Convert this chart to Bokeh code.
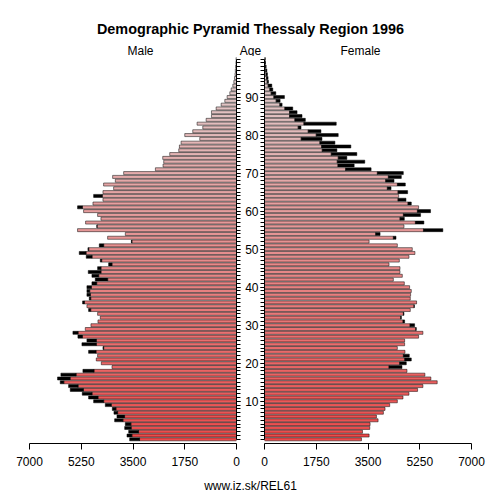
import numpy as np
from bokeh.plotting import figure
from bokeh.layouts import column, row
from bokeh.models import Range1d, FixedTicker, ColumnDataSource
from bokeh.embed import file_html
from bokeh.resources import INLINE
from bokeh.core.properties import value

# ---------------- data ----------------
ages = list(range(101))
male = [3613, 3703, 3646, 3782, 3760, 4121, 4042, 4144, 4200, 4437,
        4832, 5002, 5216, 5622, 5679, 5961, 6052, 5938, 5194, 4211,
        4572, 4742, 4697, 5002, 4516, 5227, 5058, 5363, 5532, 5114,
        4922, 4685, 4606, 4697, 5002, 5058, 5205, 4979, 5058, 5058,
        5058, 4889, 4776, 4889, 5013, 4697, 4324, 4606, 5081, 5318,
        5024, 4640, 3556, 4358, 3760, 5375, 4719, 5103, 4584, 4697,
        5171, 5375, 4854, 4516, 4832, 4516, 4155, 4494, 4098, 4189,
        3816, 2743, 2484, 2461, 2495, 2258, 1953, 1931, 1874, 1242,
        1750, 1479, 1140, 1333, 1027, 847, 847, 688, 519, 395,
        316, 226, 181, 124, 90, 68, 50, 40, 30, 20,
        15]
female = [3279, 3537, 3313, 3560, 3571, 3841, 3785, 4020, 4076, 4234,
          4492, 4683, 4885, 5177, 5357, 5840, 5626, 5424, 4818, 4649,
          4795, 4964, 4896, 4750, 4492, 4739, 4739, 5211, 5357, 5132,
          5076, 4739, 4627, 4717, 4930, 5065, 5143, 4930, 4941, 4964,
          4907, 4728, 4357, 4660, 4582, 4582, 4211, 4559, 4885, 5087,
          4997, 4492, 3537, 4447, 3908, 6031, 4717, 5390, 4728, 5278,
          5615, 5211, 4964, 4784, 4537, 4840, 4279, 4762, 4380, 4627,
          4694, 3605, 3032, 3391, 2785, 3122, 2448, 2920, 2381, 1943,
          2493, 1909, 1235, 2426, 1381, 1269, 1101, 955, 595, 528,
          674, 382, 281, 247, 135, 120, 100, 80, 56, 34,
          22]
x_ticks = [0, 1750, 3500, 5250, 7000]
age_ticks = [10, 20, 30, 40, 50, 60, 70, 80, 90]
title_text = "Demographic Pyramid Thessaly Region 1996"
male_label = "Male"
female_label = "Female"
age_label = "Age"
footer_text = "www.iz.sk/REL61"

FONT = "Liberation Sans"
C_YOUNG = np.array([236, 74, 74])
C_OLD = np.array([224, 212, 212])

# ---------------- derived ----------------
a = np.array(ages, dtype=float)
m = np.array(male, dtype=float)
f = np.array(female, dtype=float)
common = np.minimum(m, f)
t = a / a.max()
cols = ["#%02x%02x%02x" % tuple(int(round(v)) for v in (C_YOUNG + (C_OLD - C_YOUNG) * ti)) for ti in t]

base_src = ColumnDataSource(dict(age=a, common=common, zero=np.zeros_like(a), color=cols))
mx = m > f
fx = f > m
m_ex = ColumnDataSource(dict(age=a[mx], left=common[mx], right=m[mx]))
f_ex = ColumnDataSource(dict(age=a[fx], left=common[fx], right=f[fx]))

Y0, Y1 = -1.1, 100.66
FRAME_W, FRAME_H = 207, 387
BOTTOM = 30
BAR_H = 0.8
OUT_W = 0.5


def style_common(p):
    p.xgrid.visible = False
    p.ygrid.visible = False
    p.outline_line_color = None
    p.background_fill_color = "white"
    p.border_fill_color = "white"
    xa = p.xaxis[0]
    xa.ticker = FixedTicker(ticks=x_ticks)
    xa.major_tick_out = 6
    xa.major_tick_in = 0
    xa.minor_tick_line_color = None
    xa.major_label_standoff = 7
    xa.major_label_text_font = FONT
    xa.major_label_text_font_size = "12px"
    xa.major_label_text_color = "black"
    xa.axis_line_color = "black"
    xa.major_tick_line_color = "black"
    ya = p.yaxis[0]
    ya.ticker = FixedTicker(ticks=age_ticks, minor_ticks=ages)
    ya.major_tick_out = 4
    ya.major_tick_in = 0
    ya.minor_tick_out = 4
    ya.minor_tick_in = 0
    ya.bounds = (0, 100)
    ya.axis_line_color = "black"
    ya.major_tick_line_color = "black"
    ya.minor_tick_line_color = "black"
    ya.major_label_text_font = FONT
    ya.major_label_text_font_size = "12px"
    ya.major_label_text_color = "black"


left = figure(width=29 + FRAME_W + 6, height=FRAME_H + BOTTOM,
              x_range=Range1d(7000, 0), y_range=Range1d(Y0, Y1),
              output_backend="svg", toolbar_location=None, y_axis_location="right",
              min_border_left=29, min_border_right=6, min_border_top=0, min_border_bottom=BOTTOM)
style_common(left)
left.yaxis[0].major_label_overrides = {tk: "" for tk in age_ticks}
left.yaxis[0].major_label_standoff = 0
left.hbar(y="age", left="zero", right="common", height=BAR_H, fill_color="color",
          line_color="black", line_width=OUT_W, source=base_src)
left.hbar(y="age", left="left", right="right", height=BAR_H, fill_color="black",
          line_color="black", line_width=OUT_W, source=m_ex)

right = figure(width=22 + FRAME_W + 29, height=FRAME_H + BOTTOM,
               x_range=Range1d(0, 7000), y_range=Range1d(Y0, Y1),
               output_backend="svg", toolbar_location=None, y_axis_location="left",
               min_border_left=22, min_border_right=29, min_border_top=0, min_border_bottom=BOTTOM)
style_common(right)
right.yaxis[0].major_label_standoff = 2
right.hbar(y="age", left="zero", right="common", height=BAR_H, fill_color="color",
           line_color="black", line_width=OUT_W, source=base_src)
right.hbar(y="age", left="left", right="right", height=BAR_H, fill_color="black",
           line_color="black", line_width=OUT_W, source=f_ex)

TOTAL_W = 500


def blank(h):
    p = figure(width=TOTAL_W, height=h, x_range=Range1d(0, TOTAL_W), y_range=Range1d(0, h),
               output_backend="svg", toolbar_location=None,
               min_border=0, min_border_left=0, min_border_right=0,
               min_border_top=0, min_border_bottom=0)
    p.axis.visible = False
    p.xgrid.visible = False
    p.ygrid.visible = False
    p.outline_line_color = None
    return p


HEAD_H = 56
head = blank(HEAD_H)
head.text(x=[250], y=[HEAD_H - 28], text=[title_text], text_font=value(FONT),
          text_font_size=value("14.4px"), text_font_style="bold",
          text_align="center", text_baseline="middle", text_color="black")
head.text(x=[140, 250, 360], y=[HEAD_H - 50] * 3, text=[male_label, age_label, female_label],
          text_font=value(FONT), text_font_size=value("12px"),
          text_align="center", text_baseline="middle", text_color="black")

FOOT_H = 500 - HEAD_H - (FRAME_H + BOTTOM)
foot = blank(FOOT_H)
foot.text(x=[250], y=[FOOT_H - 12], text=[footer_text], text_font=value(FONT),
          text_font_size=value("12px"), text_align="center", text_baseline="middle",
          text_color="black")

layout = column(head, row(left, right), foot)

with open("out.html", "w") as fh:
    fh.write(file_html(layout, INLINE))
